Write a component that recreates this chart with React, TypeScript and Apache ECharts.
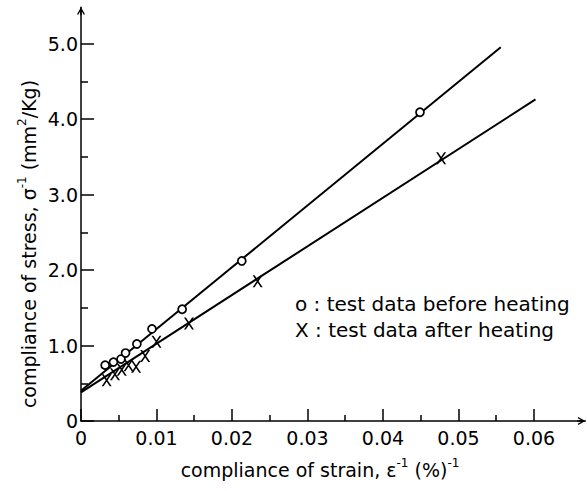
import React, { useEffect, useRef } from "react";
import * as echarts from "echarts";

// ---- data ----
const beforeX = [0.0032, 0.0043, 0.0053, 0.0059, 0.0074, 0.0094, 0.0134, 0.0213, 0.0449];
const beforeY = [0.74, 0.78, 0.82, 0.9, 1.02, 1.22, 1.48, 2.12, 4.09];
const afterX = [0.0034, 0.0045, 0.0054, 0.0063, 0.0073, 0.0085, 0.01, 0.0143, 0.0234, 0.0477];
const afterY = [0.54, 0.62, 0.68, 0.74, 0.72, 0.86, 1.05, 1.29, 1.85, 3.48];
const beforeLineX = [0, 0.0556];
const beforeLineY = [0.4, 4.95];
const afterLineX = [0, 0.0602];
const afterLineY = [0.38, 4.26];

const xTicks = [0, 0.01, 0.02, 0.03, 0.04, 0.05, 0.06];
const xTickLabels = ["0", "0.01", "0.02", "0.03", "0.04", "0.05", "0.06"];
const xMinorTicks = [0.005, 0.015, 0.025, 0.035, 0.045, 0.055];
const yTicks = [0, 1, 2, 3, 4, 5];
const yTickLabels = ["0", "1.0", "2.0", "3.0", "4.0", "5.0"];
const yMinorTicks = [0.5, 1.5, 2.5, 3.5, 4.5];
const xMax = 0.0668;
const yMax = 5.48;

const legendLines = ["o : test data before heating", "X : test data after heating"];
const xTitle = "{a|compliance of strain, ε}{s|-1}{a| (%)}{s|-1}";
const yTitle = "{a|compliance of stress, σ}{s|-1}{a| (mm}{s|2}{a|/Kg)}";

const FONT = "DejaVu Sans";
const ARROW = "path://M4,0L8,7L6.8,7.5L4,2.6L1.2,7.5L0,7Z M3.3,1.5L4.7,1.5L4.7,8L3.3,8Z";
const CROSS = "path://M0,0L1.9,0L10,12L8.1,12Z M8.1,0L10,0L1.9,12L0,12Z";

const zip = (xs: number[], ys: number[]) => xs.map((x, i) => [x, ys[i]]);
const labelFor = (ticks: number[], labels: string[]) => (v: number) => {
  const i = ticks.findIndex((t) => Math.abs(t - v) < 1e-9);
  return i >= 0 ? labels[i] : "";
};

export default function App() {
  const ref = useRef<HTMLDivElement>(null);
  useEffect(() => {
    if (!ref.current) return;
    const chart = echarts.init(ref.current, null, { renderer: "svg" });
    const axisLine = { show: true, lineStyle: { color: "#000", width: 1.5 } };
    const richTitle = {
      a: { fontSize: 19, fontFamily: FONT, color: "#000", lineHeight: 26 },
      s: { fontSize: 12, fontFamily: FONT, color: "#000", lineHeight: 12, verticalAlign: "top" },
    };
    chart.setOption({
      animation: false,
      backgroundColor: "#fff",
      grid: { left: 81, right: 1.7, top: 7.3, bottom: 70, containLabel: false, outerBoundsMode: "none" },
      xAxis: [
        {
          type: "value",
          min: 0,
          max: xMax,
          position: "bottom",
          splitLine: { show: false },
          axisLine: { ...axisLine, symbol: ["none", ARROW], symbolSize: [8, 8], symbolOffset: [0, -4] },
          axisTick: { show: true, inside: true, length: 12, customValues: xTicks, lineStyle: { color: "#000", width: 1.5 } },
          axisLabel: {
            customValues: xTicks,
            formatter: labelFor(xTicks, xTickLabels),
            fontSize: 19,
            fontFamily: FONT,
            color: "#000",
            margin: 7,
          },
        },
        {
          type: "value",
          min: 0,
          max: xMax,
          position: "bottom",
          splitLine: { show: false },
          axisLine: { show: false },
          axisLabel: { show: false },
          axisTick: { show: true, inside: true, length: 6, customValues: xMinorTicks, lineStyle: { color: "#000", width: 1.5 } },
        },
      ],
      yAxis: [
        {
          type: "value",
          min: 0,
          max: yMax,
          position: "left",
          splitLine: { show: false },
          axisLine: { ...axisLine, symbol: ["none", ARROW], symbolSize: [8, 8], symbolOffset: [0, -4] },
          axisTick: { show: true, inside: true, length: 13, customValues: yTicks, lineStyle: { color: "#000", width: 1.5 } },
          axisLabel: {
            customValues: yTicks,
            formatter: labelFor(yTicks, yTickLabels),
            fontSize: 19,
            fontFamily: FONT,
            color: "#000",
            margin: 3,
          },
        },
        {
          type: "value",
          min: 0,
          max: yMax,
          position: "left",
          splitLine: { show: false },
          axisLine: { show: false },
          axisLabel: { show: false },
          axisTick: { show: true, inside: true, length: 7, customValues: yMinorTicks, lineStyle: { color: "#000", width: 1.5 } },
        },
      ],
      graphic: [
        {
          type: "text",
          x: 29,
          y: 244,
          rotation: Math.PI / 2,
          style: { text: yTitle, rich: richTitle, align: "center", verticalAlign: "middle" },
        },
        {
          type: "text",
          x: 320,
          y: 470,
          style: { text: xTitle, rich: richTitle, align: "center", verticalAlign: "middle" },
        },
        {
          type: "text",
          left: 295,
          top: 294,
          style: { text: legendLines[0], fontSize: 20, fontFamily: FONT, fill: "#000" },
        },
        {
          type: "text",
          left: 295,
          top: 320,
          style: { text: legendLines[1], fontSize: 20, fontFamily: FONT, fill: "#000" },
        },
      ],
      series: [
        {
          type: "line",
          data: zip(beforeLineX, beforeLineY),
          showSymbol: false,
          symbol: "none",
          lineStyle: { color: "#000", width: 2 },
          z: 2,
        },
        {
          type: "line",
          data: zip(afterLineX, afterLineY),
          showSymbol: false,
          symbol: "none",
          lineStyle: { color: "#000", width: 2 },
          z: 2,
        },
        {
          type: "scatter",
          data: zip(beforeX, beforeY),
          symbol: "circle",
          symbolSize: 8,
          itemStyle: { color: "#fff", borderColor: "#000", borderWidth: 1.7, opacity: 1 },
          z: 3,
        },
        {
          type: "scatter",
          data: zip(afterX, afterY),
          symbol: CROSS,
          symbolSize: [10, 12],
          itemStyle: { color: "#000", opacity: 1 },
          z: 3,
        },
      ],
    });
    return () => chart.dispose();
  }, []);
  return (
    <div
      ref={ref}
      style={{ position: "absolute", left: 0, top: 0, width: 587, height: 491 }}
    />
  );
}
